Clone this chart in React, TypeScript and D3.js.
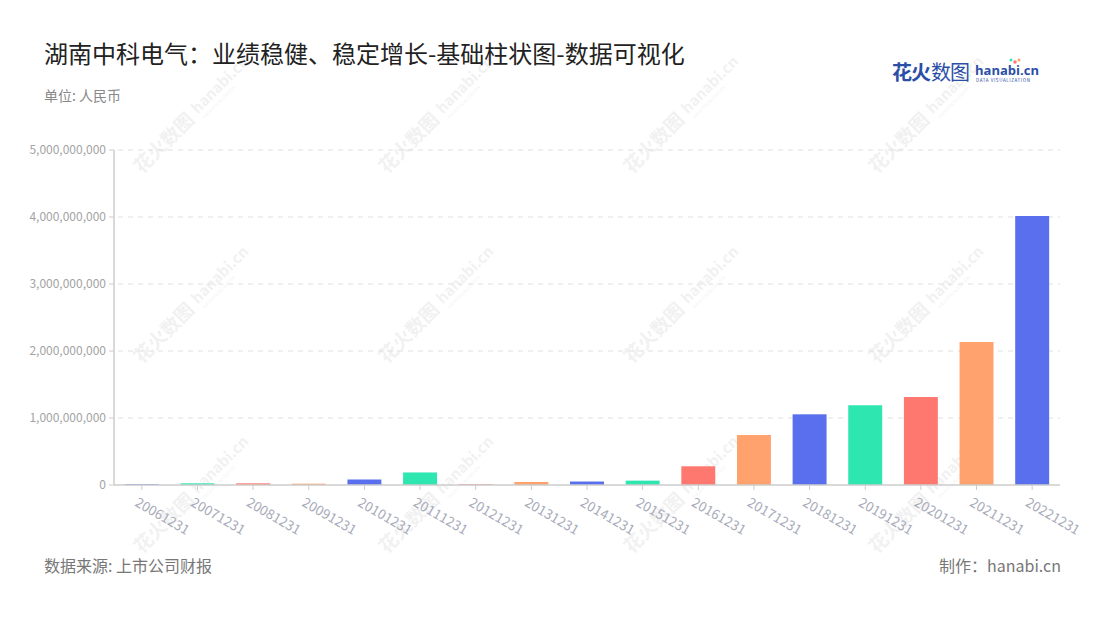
import React from "react";
import * as d3 from "d3";

const categories = ["20061231","20071231","20081231","20091231","20101231","20111231","20121231","20131231","20141231","20151231","20161231","20171231","20181231","20191231","20201231","20211231","20221231"];
const values = [12e6, 25e6, 25e6, 20e6, 82e6, 187e6, 12e6, 45e6, 52e6, 65e6, 279e6, 746e6, 1055e6, 1190e6, 1313e6, 2134e6, 4015e6];
const palette = ["#5A6FEE", "#2EE6B0", "#FF7870", "#FFA26E"];
const yTicks = [0, 1e9, 2e9, 3e9, 4e9, 5e9];

const W = 1100, H = 620;
const left = 114, right = 1060, top = 150, bottom = 485;
const FONT = "'Noto Sans CJK SC', 'Noto Sans', sans-serif";

export default function App() {
  const x = d3.scaleBand<string>().domain(categories).range([left, right]);
  const y = d3.scaleLinear().domain([0, 5e9]).range([bottom, top]);
  const bw = x.bandwidth() * 0.61;
  const fmt = d3.format(",");
  const wmX = [180, 425, 670, 915];
  const wmY = [125, 315, 505];
  return (
    <svg width={W} height={H} style={{ position: "absolute", left: 0, top: 0, background: "#fff" }} fontFamily={FONT}>
      <rect width={W} height={H} fill="#fff" />
      {/* watermarks */}
      {wmY.map((wy) => wmX.map((wx) => (
        <g key={wx + "-" + wy} transform={`translate(${wx},${wy}) rotate(-45)`} opacity={0.05}>
          <text x={-62} y={8} fontSize={19} fontWeight={700} fill="#000">花火数图</text>
          <text x={20} y={5} fontSize={15} fontWeight={700} fill="#000">hanabi.cn</text>
          <text x={22} y={13} fontSize={4.5} fill="#000">DATA VISUALIZATION</text>
        </g>
      )))}
      {/* title */}
      <text x={44} y={63} fontSize={24} fill="#222">湖南中科电气：业绩稳健、稳定增长-基础柱状图-数据可视化</text>
      <text x={44} y={101} fontSize={14} fill="#888">单位: 人民币</text>
      {/* logo */}
      <g>
        <text x={892} y={80} fontSize={20} fontWeight={700} fill="#2B4FA6" letterSpacing={-1}>花火</text>
        <text x={931} y={80} fontSize={20} fill="#2B4FA6" letterSpacing={-1}>数图</text>
        <text x={975} y={75} fontSize={13} fontWeight={700} fill="#2B4FA6" fontFamily="'Open Sans', sans-serif">hanabi.cn</text>
        <text x={976} y={82} fontSize={4.5} fill="#2B4FA6" letterSpacing={0.6}>DATA VISUALIZATION</text>
        <circle cx={1015} cy={62} r={1.8} fill="#FF7870" />
        <circle cx={1019} cy={60} r={1.5} fill="#FFA26E" />
        <circle cx={1011} cy={60} r={1.5} fill="#2EE6B0" />
      </g>
      {/* grid */}
      {yTicks.map((t) => (
        <g key={t}>
          {t > 0 && <line x1={left + 4} x2={right} y1={y(t)} y2={y(t)} stroke="#E0E0E0" strokeDasharray="5,5" />}
          <line x1={left - 5} x2={left} y1={y(t)} y2={y(t)} stroke="#ccc" />
          <text x={left - 8} y={y(t)} dy="0.35em" textAnchor="end" fontSize={12} fill="#A3A3A3">{fmt(t)}</text>
        </g>
      ))}
      {/* bars */}
      {categories.map((c, i) => {
        const cx = (x(c) as number) + x.bandwidth() / 2;
        return (
          <rect key={c} x={cx - bw / 2} y={y(values[i])} width={bw} height={bottom - y(values[i])} fill={palette[i % 4]} />
        );
      })}
      {/* axes */}
      <line x1={left} x2={left} y1={top} y2={bottom} stroke="#ccc" strokeWidth={1.5} />
      <line x1={left} x2={right} y1={bottom} y2={bottom} stroke="#ccc" strokeWidth={1.5} />
      {categories.map((c) => {
        const cx = (x(c) as number) + x.bandwidth() / 2;
        return (
          <g key={c}>
            <line x1={cx} x2={cx} y1={bottom} y2={bottom + 5} stroke="#ccc" />
            <text transform={`translate(${cx - 3},${bottom + 12}) rotate(30)`} fontSize={13.5} fill="#A8ABBA" dy="0.7em">{c}</text>
          </g>
        );
      })}
      {/* footer */}
      <text x={44} y={572} fontSize={16} fill="#777">数据来源: 上市公司财报</text>
      <text x={1061} y={572} fontSize={16} fill="#777" textAnchor="end">制作：hanabi.cn</text>
    </svg>
  );
}
